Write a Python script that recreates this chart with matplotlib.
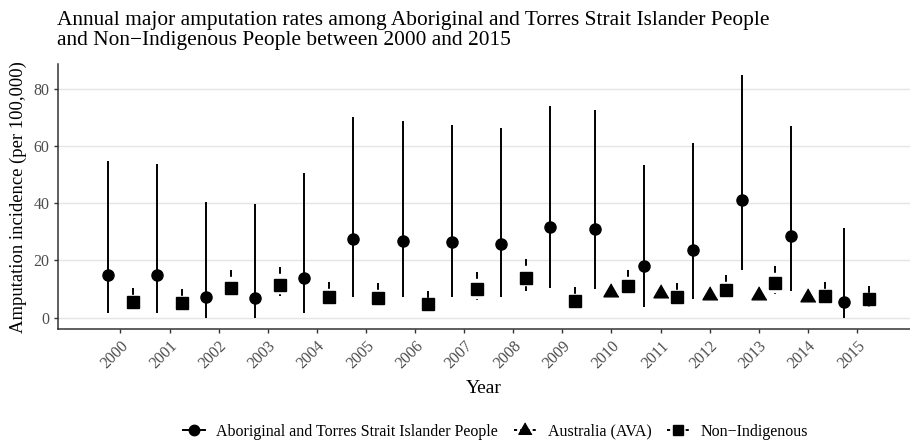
import matplotlib
matplotlib.use("Agg")
import matplotlib.pyplot as plt
from matplotlib.lines import Line2D
import numpy as np

plt.rcParams['font.family'] = ['Liberation Serif', 'DejaVu Serif']

years = list(range(2000, 2016))

abo_val = [15.0, 14.8, 7.2, 7.0, 13.9, 27.4, 26.9, 26.4, 25.9, 31.7, 31.0, 18.2, 23.8, 41.1, 28.7, 5.5]
abo_lo = [1.8, 1.8, 0.0, 0.0, 1.5, 7.3, 7.2, 7.2, 7.1, 10.3, 9.9, 3.6, 6.5, 16.5, 9.3, 0.0]
abo_hi = [54.8, 53.6, 40.5, 39.8, 50.6, 70.3, 68.9, 67.5, 66.2, 74.0, 72.5, 53.4, 61.1, 84.7, 66.9, 31.3]

non_val = [5.4, 5.1, 10.4, 11.4, 7.2, 6.9, 4.8, 10.0, 13.9, 5.9, 11.2, 7.2, 9.8, 12.1, 7.7, 6.6]
non_lo = [2.6, 2.5, 7.2, 7.7, 3.9, 3.8, 2.7, 6.3, 9.4, 3.2, 7.1, 4.1, 5.9, 8.4, 4.5, 3.7]
non_hi = [10.4, 10.1, 16.7, 17.7, 12.5, 12.1, 9.2, 15.9, 20.5, 10.6, 16.7, 12.1, 14.8, 18.0, 12.6, 11.2]

ava_years = [2010, 2011, 2012, 2013, 2014]
ava_val = [8.9, 8.5, 7.8, 8.0, 7.2]

tick_labels = [str(y) for y in years]

fig = plt.figure(figsize=(9.1, 4.41), dpi=100)
ax = fig.add_axes([0.064, 0.2533, 0.936, 0.6016])

ava_set = set(ava_years)
def offsets(y):
    n = 3 if y in ava_set else 2
    w = 1.02
    return [(i - (n - 1) / 2) * w / n for i in range(n)]

abo_x, non_x, ava_x = [], [], []
for i, y in enumerate(years):
    off = offsets(y)
    abo_x.append(i + off[0])
    non_x.append(i + off[-1])
    if y in ava_set:
        ava_x.append(i + off[1])

dash = (0, (3.5, 3.5))
for x, lo, hi in zip(abo_x, abo_lo, abo_hi):
    ax.plot([x, x], [lo, hi], color='black', lw=1.4, solid_capstyle='butt', zorder=3)
for x, lo, hi in zip(non_x, non_lo, non_hi):
    ax.plot([x, x], [hi, lo], color='black', lw=1.4, ls=dash, dash_capstyle='butt', zorder=3)

tri = [(0, 1), (-0.866, -0.5), (0.866, -0.5)]
ax.plot(abo_x, abo_val, 'o', color='black', ms=8, zorder=4)
ax.plot(non_x, non_val, 's', color='black', ms=8, zorder=4)
ax.plot(ava_x, ava_val, marker=tri, ls='none', color='black', ms=12.5, zorder=4)

ax.set_xlim(-1.267, 16.08)
ax.set_ylim(-4.07, 88.7)
ax.set_yticks([0, 20, 40, 60, 80])
ax.yaxis.grid(True, color='#E5E5E5', lw=1.0)
ax.set_axisbelow(True)

ax.set_xticks(range(len(years)))
ax.set_xticklabels(tick_labels, rotation=45, ha='right', va='top', rotation_mode='anchor')

for s in ['top', 'right']:
    ax.spines[s].set_visible(False)
for s in ['left', 'bottom']:
    ax.spines[s].set_color('#333333')
    ax.spines[s].set_linewidth(1.1)
ax.tick_params(axis='both', colors='#333333', labelcolor='#4D4D4D', labelsize=11.5,
               length=3.2, width=1.0, pad=3)

ax.set_xlabel('Year', fontsize=14, labelpad=6)
ax.set_ylabel('Amputation incidence (per 100,000)', fontsize=13.4, labelpad=5)

fig.text(0.0626, 0.976, 'Annual major amputation rates among Aboriginal and Torres Strait Islander People\nand Non\u2212Indigenous People between 2000 and 2015',
         fontsize=15.4, va='top', ha='left', linespacing=1.12)

leg_dash = (0, (1.6, 1.6))
handles = [
    Line2D([], [], color='black', marker='o', ms=7.5, lw=1.4),
    Line2D([], [], color='black', marker=tri, ms=11, lw=1.4, ls=leg_dash),
    Line2D([], [], color='black', marker='s', ms=7.5, lw=1.4, ls=leg_dash),
]
labels = ['Aboriginal and Torres Strait Islander People', 'Australia (AVA)', 'Non\u2212Indigenous']
fig.legend(handles, labels, loc='center', bbox_to_anchor=(0.5445, 0.021), ncol=3, frameon=False,
           fontsize=11.5, handlelength=1.4, columnspacing=1.0, handletextpad=0.7)

fig.savefig('out.png', dpi=100)
